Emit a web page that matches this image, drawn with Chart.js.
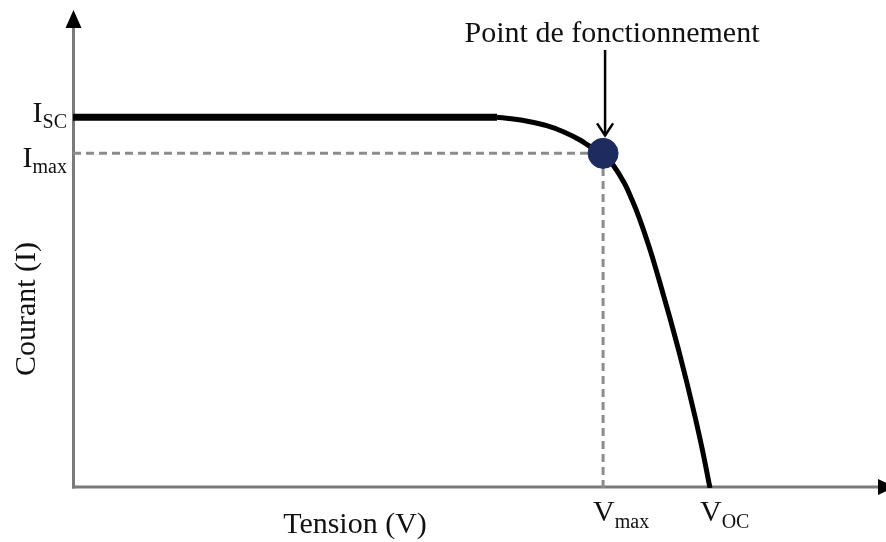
<!DOCTYPE html>
<html>
<head>
<meta charset="utf-8">
<script src="https://cdn.jsdelivr.net/npm/chart.js@4/dist/chart.umd.min.js"></script>
<style>
  html, body { margin: 0; padding: 0; background: #ffffff; }
  #wrap { width: 886px; height: 542px; position: relative; }
</style>
</head>
<body>
<div id="wrap"><canvas id="c" width="886" height="542"></canvas></div>
<script>
// ---- Data (arbitrary units) ----
const Isc = 77.9;
const Imax = 70.3;
const Vmax = 65.2;
const Voc = 78.35;
const Vknee = 52.15;

// knee + steep part of the I(V) curve
const voltage = [52.15, 54.16, 56.21, 58.27, 60.31, 62.36, 63.59, 65.23, 67.81, 68.77, 69.61, 70.99, 72.20, 73.39, 74.49, 75.52, 76.52, 77.42, 78.35];
const current = [77.9, 77.52, 76.95, 76.11, 74.85, 73.11, 71.74, 70.3, 64.08, 60.5, 56.93, 50.0, 43.07, 35.92, 28.99, 22.06, 14.92, 7.98, 0];

const yTickValues = [Isc, Imax];
const yTickMain = ['I', 'I'];
const yTickSub = ['SC', 'max'];
const xTickValues = [Vmax, Voc];
const xTickMain = ['V', 'V'];
const xTickSub = ['max', 'OC'];

const xTitle = 'Tension (V)';
const yTitle = 'Courant (I)';
const pointLabel = 'Point de fonctionnement';

const curvePts = voltage.map((v, i) => ({ x: v, y: current[i] }));

const SERIF = '"Liberation Serif", "DejaVu Serif", serif';
const TXT = '#111111';
const AXIS = '#7a7a7a';

const drawPlugin = {
  id: 'ivDecor',
  beforeDatasetsDraw(chart) {
    const ctx = chart.ctx;
    const a = chart.chartArea;
    const xs = chart.scales.x, ys = chart.scales.y;
    const x0 = xs.getPixelForValue(0) + 0.5;
    const y0 = ys.getPixelForValue(0) - 1;
    ctx.save();
    ctx.strokeStyle = AXIS;
    ctx.lineWidth = 3;
    ctx.beginPath();
    ctx.moveTo(x0, y0 + 1.5);
    ctx.lineTo(x0, 24);
    ctx.stroke();
    ctx.beginPath();
    ctx.moveTo(x0 - 1.5, y0);
    ctx.lineTo(a.right - 6, y0);
    ctx.stroke();
    ctx.fillStyle = '#000';
    ctx.beginPath();
    ctx.moveTo(x0, 10);
    ctx.lineTo(x0 - 8, 28);
    ctx.lineTo(x0 + 8, 28);
    ctx.closePath();
    ctx.fill();
    ctx.beginPath();
    ctx.moveTo(a.right + 9, y0);
    ctx.lineTo(a.right - 8, y0 - 8);
    ctx.lineTo(a.right - 8, y0 + 8);
    ctx.closePath();
    ctx.fill();
    ctx.restore();
  },
  afterDraw(chart) {
    const ctx = chart.ctx;
    const xs = chart.scales.x, ys = chart.scales.y;
    ctx.save();
    ctx.fillStyle = TXT;
    const mainFont = '30px ' + SERIF;
    const subFont = '20px ' + SERIF;
    const yOff = [5, 14];
    yTickValues.forEach((v, i) => {
      const py = ys.getPixelForValue(v);
      ctx.font = subFont;
      const sw = ctx.measureText(yTickSub[i]).width;
      ctx.textAlign = 'right';
      ctx.textBaseline = 'alphabetic';
      ctx.fillText(yTickSub[i], 67, py + yOff[i] + 6);
      ctx.font = mainFont;
      ctx.fillText(yTickMain[i], 67 - sw, py + yOff[i]);
    });
    xTickValues.forEach((v, i) => {
      const px = xs.getPixelForValue(v);
      ctx.font = mainFont;
      const mw = ctx.measureText(xTickMain[i]).width;
      ctx.textAlign = 'left';
      ctx.textBaseline = 'alphabetic';
      ctx.fillText(xTickMain[i], px - 10, 521);
      ctx.font = subFont;
      ctx.fillText(xTickSub[i], px - 10 + mw, 528);
    });
    ctx.font = mainFont;
    ctx.textAlign = 'center';
    ctx.textBaseline = 'alphabetic';
    ctx.fillText(xTitle, 355, 533);
    ctx.save();
    ctx.translate(35, 309);
    ctx.rotate(-Math.PI / 2);
    ctx.fillText(yTitle, 0, 0);
    ctx.restore();
    const ox = xs.getPixelForValue(Vmax) + 2;
    const oy = ys.getPixelForValue(Imax);
    ctx.font = mainFont;
    ctx.textAlign = 'center';
    ctx.fillText(pointLabel, 612, 42);
    ctx.strokeStyle = '#000';
    ctx.lineWidth = 2.5;
    ctx.beginPath();
    ctx.moveTo(ox, 50);
    ctx.lineTo(ox, oy - 18);
    ctx.stroke();
    ctx.beginPath();
    ctx.moveTo(ox - 8, oy - 30);
    ctx.lineTo(ox, oy - 18);
    ctx.lineTo(ox + 8, oy - 30);
    ctx.stroke();
    ctx.restore();
  }
};

new Chart(document.getElementById('c'), {
  type: 'scatter',
  data: {
    datasets: [
      {
        label: 'Imax',
        data: [{ x: 0, y: Imax }, { x: Vmax, y: Imax }],
        showLine: true,
        borderColor: '#8c8c8c',
        borderWidth: 3,
        borderDash: [8, 5],
        pointRadius: 0,
        order: 4
      },
      {
        label: 'Vmax',
        data: [{ x: Vmax, y: 0 }, { x: Vmax, y: Imax }],
        showLine: true,
        borderColor: '#8c8c8c',
        borderWidth: 3,
        borderDash: [8, 5],
        pointRadius: 0,
        order: 4
      },
      {
        label: 'Isc plateau',
        data: [{ x: 0, y: Isc }, { x: Vknee, y: Isc }],
        showLine: true,
        borderColor: '#000000',
        borderWidth: 7,
        pointRadius: 0,
        order: 3
      },
      {
        label: 'I(V)',
        data: curvePts,
        showLine: true,
        borderColor: '#000000',
        borderWidth: 5,
        cubicInterpolationMode: 'monotone',
        pointRadius: 0,
        order: 2
      },
      {
        label: 'Point',
        data: [{ x: Vmax, y: Imax }],
        backgroundColor: '#1d2b5f',
        borderColor: '#1d2b5f',
        pointRadius: 15,
        pointHoverRadius: 15,
        order: 1
      }
    ]
  },
  options: {
    responsive: false,
    animation: false,
    devicePixelRatio: 1,
    layout: { autoPadding: false, padding: { left: 73, right: 0, top: 12, bottom: 54 } },
    plugins: { legend: { display: false }, tooltip: { enabled: false } },
    scales: {
      x: { type: 'linear', min: 0, max: 100, display: false },
      y: { type: 'linear', min: 0, max: 100, display: false }
    }
  },
  plugins: [drawPlugin]
});
</script>
</body>
</html>
